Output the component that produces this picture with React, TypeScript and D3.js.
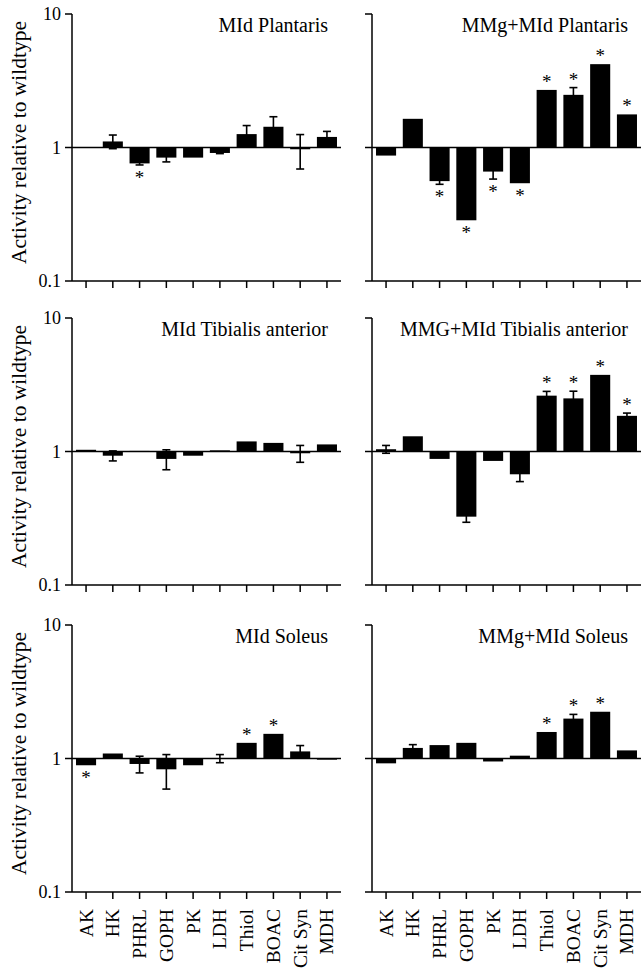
import React, { useEffect, useRef } from "react";
import * as d3 from "d3";

// enzyme categories (same for all six panels)
const enzymes = ["AK", "HK", "PHRL", "GOPH", "PK", "LDH", "Thiol", "BOAC", "Cit Syn", "MDH"];
const yTicks = [0.1, 1, 10];
const yTickLabels = ["0.1", "1", "10"];

// activity relative to wildtype, error, and significance (1 = *)
const mldPlantaris = [1.0, 1.11, 0.76, 0.84, 0.84, 0.91, 1.26, 1.43, 0.97, 1.2];
const mldPlantarisErr = [0, 0.13, 0.02, 0.06, 0, 0.01, 0.2, 0.27, 0.28, 0.12];
const mldPlantarisSig = [0, 0, 1, 0, 0, 0, 0, 0, 0, 0];

const mmgPlantaris = [0.87, 1.64, 0.56, 0.285, 0.66, 0.54, 2.7, 2.48, 4.21, 1.77];
const mmgPlantarisErr = [0, 0, 0.03, 0, 0.08, 0, 0, 0.33, 0, 0];
const mmgPlantarisSig = [0, 0, 1, 1, 1, 1, 1, 1, 1, 1];

const mldTibialis = [1.03, 0.93, 1.01, 0.88, 0.93, 1.02, 1.19, 1.16, 0.97, 1.13];
const mldTibialisErr = [0, 0.08, 0, 0.15, 0, 0, 0, 0, 0.14, 0];
const mldTibialisSig = [0, 0, 0, 0, 0, 0, 0, 0, 0, 0];

const mmgTibialis = [1.04, 1.3, 0.88, 0.325, 0.85, 0.675, 2.62, 2.5, 3.75, 1.85];
const mmgTibialisErr = [0.07, 0, 0, 0.03, 0, 0.08, 0.2, 0.33, 0, 0.09];
const mmgTibialisSig = [0, 0, 0, 0, 0, 0, 1, 1, 1, 1];

const mldSoleus = [0.89, 1.09, 0.91, 0.83, 0.89, 1.0, 1.31, 1.53, 1.13, 0.98];
const mldSoleusErr = [0, 0, 0.13, 0.24, 0, 0.07, 0, 0, 0.12, 0];
const mldSoleusSig = [1, 0, 0, 0, 0, 0, 1, 1, 0, 0];

const mmgSoleus = [0.92, 1.2, 1.26, 1.31, 0.95, 1.05, 1.58, 1.99, 2.24, 1.15];
const mmgSoleusErr = [0, 0.07, 0, 0, 0, 0, 0, 0.15, 0, 0];
const mmgSoleusSig = [0, 0, 0, 0, 0, 0, 1, 1, 1, 0];

const panels = [
  { title: "MId Plantaris", values: mldPlantaris, err: mldPlantarisErr, sig: mldPlantarisSig, col: 0, row: 0 },
  { title: "MMg+MId Plantaris", values: mmgPlantaris, err: mmgPlantarisErr, sig: mmgPlantarisSig, col: 1, row: 0 },
  { title: "MId Tibialis anterior", values: mldTibialis, err: mldTibialisErr, sig: mldTibialisSig, col: 0, row: 1 },
  { title: "MMG+MId Tibialis anterior", values: mmgTibialis, err: mmgTibialisErr, sig: mmgTibialisSig, col: 1, row: 1 },
  { title: "MId Soleus", values: mldSoleus, err: mldSoleusErr, sig: mldSoleusSig, col: 0, row: 2 },
  { title: "MMg+MId Soleus", values: mmgSoleus, err: mmgSoleusErr, sig: mmgSoleusSig, col: 1, row: 2 },
];

const FONT = "'Liberation Serif', 'Times New Roman', serif";

export default function App() {
  const ref = useRef<SVGSVGElement>(null);

  useEffect(() => {
    const svg = d3.select(ref.current);
    svg.selectAll("*").remove();

    const width = 641;
    const height = 970;
    const colX = [[72, 341], [372, 641]];
    const rowTop = [14, 318, 625];
    const plotH = 267;
    const tick = 7;

    svg.attr("width", width).attr("height", height);
    svg.append("rect").attr("width", width).attr("height", height).attr("fill", "#fff");

    panels.forEach(p => {
      const [x0, x1] = colX[p.col];
      const top = rowTop[p.row];
      const bottom = top + plotH;

      const x = d3.scaleBand<string>()
        .domain(enzymes)
        .range([x0, x1])
        .paddingInner(0.25)
        .paddingOuter(0.15);
      const y = d3.scaleLog().domain([0.1, 10]).range([bottom, top]);

      const g = svg.append("g").attr("font-family", FONT);

      // bars from 1 to value
      g.append("g")
        .selectAll("rect")
        .data(p.values)
        .join("rect")
        .attr("x", (d, i) => x(enzymes[i])!)
        .attr("width", x.bandwidth())
        .attr("y", d => Math.min(y(d), y(1)))
        .attr("height", d => Math.abs(y(d) - y(1)))
        .attr("fill", "#000");

      // error bars
      const eb = g.append("g").attr("stroke", "#000").attr("stroke-width", 1.6);
      p.values.forEach((v, i) => {
        const e = p.err[i];
        if (!e) return;
        const cx = x(enzymes[i])! + x.bandwidth() / 2;
        const yHi = y(v + e);
        const yLo = y(v - e);
        eb.append("line").attr("x1", cx).attr("x2", cx).attr("y1", yHi).attr("y2", yLo);
        eb.append("line").attr("x1", cx - 4).attr("x2", cx + 4).attr("y1", yHi).attr("y2", yHi);
        eb.append("line").attr("x1", cx - 4).attr("x2", cx + 4).attr("y1", yLo).attr("y2", yLo);
      });

      // significance stars
      const st = g.append("g").attr("text-anchor", "middle").attr("font-size", 19);
      p.values.forEach((v, i) => {
        if (p.sig[i] !== 1) return;
        const e = p.err[i];
        const cx = x(enzymes[i])! + x.bandwidth() / 2;
        const cy = v >= 1 ? y(v + e) - 11 : y(v - e) + 10;
        st.append("text").attr("x", cx).attr("y", cy + 9).text("*");
      });

      // axes lines
      const ax = g.append("g").attr("stroke", "#000").attr("stroke-width", 1.5).attr("fill", "none");
      ax.append("line").attr("x1", x0).attr("x2", x0).attr("y1", top).attr("y2", bottom);
      yTicks.forEach(t => {
        ax.append("line")
          .attr("x1", x0 - tick)
          .attr("x2", t === 10 ? x0 : x1)
          .attr("y1", y(t))
          .attr("y2", y(t));
      });
      enzymes.forEach(c => {
        const cx = x(c)! + x.bandwidth() / 2;
        ax.append("line").attr("x1", cx).attr("x2", cx).attr("y1", bottom).attr("y2", bottom + tick);
      });

      // y tick labels and axis title on left column
      if (p.col === 0) {
        yTicks.forEach((t, i) => {
          g.append("text")
            .attr("x", x0 - tick - 4)
            .attr("y", y(t) + 6)
            .attr("text-anchor", "end")
            .attr("font-size", 18)
            .text(yTickLabels[i]);
        });
        g.append("text")
          .attr("transform", `translate(${26},${(top + bottom) / 2 - 5}) rotate(-90)`)
          .attr("text-anchor", "middle")
          .attr("font-size", 21.5)
          .text("Activity relative to wildtype");
      }

      // panel title
      g.append("text")
        .attr("x", x1 - 13)
        .attr("y", top + 18)
        .attr("text-anchor", "end")
        .attr("font-size", 20)
        .text(p.title);

      // category labels on bottom row
      if (p.row === 2) {
        enzymes.forEach(c => {
          const cx = x(c)! + x.bandwidth() / 2;
          g.append("text")
            .attr("transform", `translate(${cx},${bottom + 17}) rotate(-90)`)
            .attr("text-anchor", "end")
            .attr("dominant-baseline", "central")
            .attr("font-size", 19.5)
            .text(c);
        });
      }
    });
  }, []);

  return <svg ref={ref} style={{ position: "absolute", left: 0, top: 0, display: "block" }} />;
}
